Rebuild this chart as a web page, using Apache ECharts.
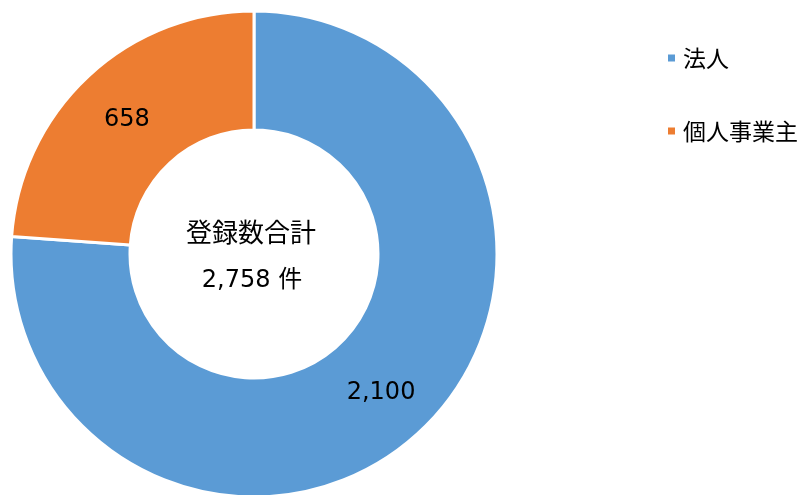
<!DOCTYPE html>
<html>
<head>
<meta charset="utf-8">
<script src="https://cdn.jsdelivr.net/npm/echarts@6/dist/echarts.min.js"></script>
<style>html,body{margin:0;padding:0;background:#fff;}#c{width:805px;height:495px;}</style>
</head>
<body>
<div id="c"></div>
<script>
const categories = ['法人', '個人事業主'];
const values = [2100, 658];
const colors = ['#5B9BD5', '#ED7D31'];
const centerTitle = '登録数合計';
const totalUnit = '件';

const total = values.reduce((a, b) => a + b, 0);
const fmt = v => v.toLocaleString('en-US');
const FONT = '"DejaVu Sans", "Noto Sans CJK JP", sans-serif';
const CJK = '"Noto Sans CJK JP", sans-serif';

const chart = echarts.init(document.getElementById('c'));
chart.setOption({
  animation: false,
  color: colors,
  textStyle: { fontFamily: FONT },
  legend: {
    orient: 'vertical',
    left: 661,
    top: 38,
    padding: 5,
    icon: 'rect',
    itemWidth: 9,
    itemHeight: 9,
    itemGap: 43,
    textStyle: { fontSize: 23, color: '#000', lineHeight: 30, fontFamily: CJK, padding: [0, 0, 0, 2] },
    data: categories
  },
  graphic: [
    { type: 'text', silent: true, position: [251, 232],
      style: { text: centerTitle, textAlign: 'center', textVerticalAlign: 'middle', fontSize: 26, fill: '#000', fontFamily: CJK } },
    { type: 'text', silent: true, position: [252, 281],
      style: { text: fmt(total) + ' ' + totalUnit, textAlign: 'center', textVerticalAlign: 'middle', fontSize: 24, fill: '#000', fontFamily: FONT } }
  ],
  series: [{
    type: 'pie',
    center: [254, 254],
    radius: [124, 243],
    startAngle: 90,
    clockwise: true,
    avoidLabelOverlap: false,
    itemStyle: { borderColor: '#fff', borderWidth: 3 },
    label: {
      show: true,
      position: 'inside',
      fontSize: 24,
      color: '#000',
      fontFamily: FONT,
      offset: [0, 2],
      formatter: p => fmt(p.value)
    },
    labelLine: { show: false },
    emphasis: { disabled: true },
    data: categories.map((c, i) => ({ name: c, value: values[i] }))
  }]
});
</script>
</body>
</html>
